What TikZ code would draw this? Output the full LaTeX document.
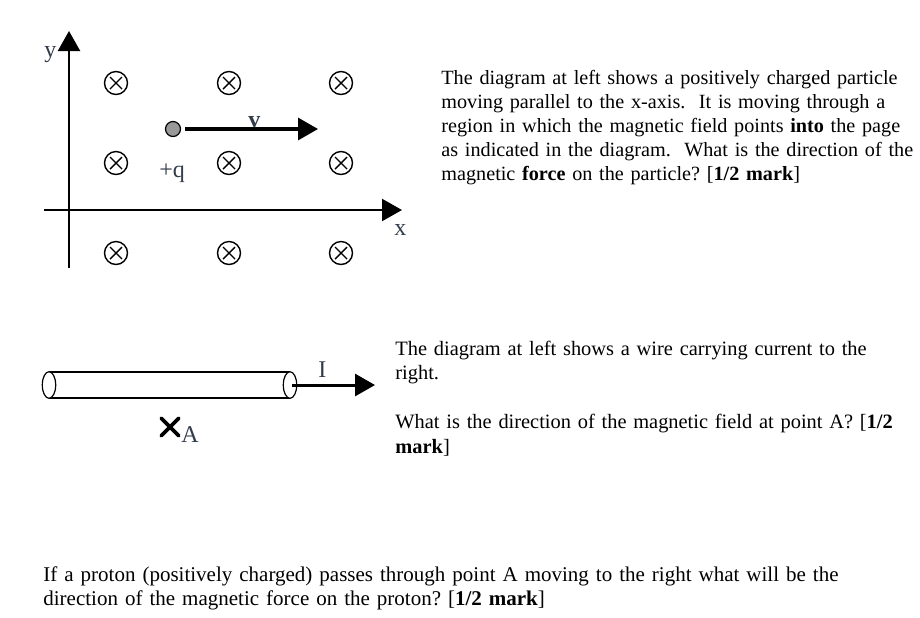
\documentclass[tikz,border=0pt]{standalone}
\usepackage{fontspec}
\setmainfont{Liberation Serif}
\usetikzlibrary{arrows.meta,shapes.misc}
\definecolor{labelgray}{RGB}{50,60,75}
\tikzset{
  fieldin/.style={circle,draw,line width=0.7pt,minimum size=11.5pt,inner sep=0pt,
    path picture={\draw[line width=0.7pt]
      ([shift={(-6,-6)}]path picture bounding box.center)--([shift={(6,6)}]path picture bounding box.center)
      ([shift={(-6,6)}]path picture bounding box.center)--([shift={(6,-6)}]path picture bounding box.center);}},
  bigtip/.style={-{Triangle[length=10pt,width=11pt]}},
  lbl/.style={inner sep=0pt,anchor=base west,text=labelgray,font=\fontsize{12}{14}\selectfont},
  question/.style={inner sep=0pt,anchor=base west,text width=250pt,align=left}
}
\frenchspacing
\begin{document}
\begin{tikzpicture}[x=0.5pt,y=-0.5pt]
  \useasboundingbox (0,0) rectangle (920,617);
  % axes
  \coordinate (yb) at (69,268);
  \coordinate (yt) at (69,31);
  \coordinate (xl) at (44,210);
  \coordinate (xr) at (402,210);
  \draw[line width=1.15pt,bigtip] (yb)--(yt);
  \draw[line width=1.15pt,bigtip] (xl)--(xr);
  \node[lbl] (ylab) at (44,57) {y};
  \node[lbl] (xlab) at (394,235) {x};
  % field into the page
  \foreach \i/\x in {1/116,2/229,3/341}
    \foreach \j/\y in {1/83,2/163,3/253}
      \node[fieldin] (b\i\j) at (\x,\y) {};
  % the charge
  \node[circle,draw,fill=black!40,line width=0.6pt,minimum size=7.5pt,inner sep=0pt] (q) at (173,129) {};
  \coordinate (vtip) at (318,129);
  \draw[line width=1.6pt,bigtip,shorten <=2pt] (q.east)--(vtip);
  \node[lbl,font=\fontsize{12}{14}\selectfont\bfseries] (vlab) at (248,127) {v};
  \node[lbl] (qlab) at (159,177) {+q};
  \node[question,font=\fontsize{10.1}{12.1}\selectfont] (text1) at (441,84) {The diagram at left shows a positively charged particle\\
    moving parallel to the x-axis.\ \ It is moving through a\\
    region in which the magnetic field points \textbf{into} the page\\
    as indicated in the diagram.\ \ What is the direction of the\\
    magnetic \textbf{force} on the particle? [\textbf{1/2 mark}]};
  % the wire
  \draw[line width=0.6pt,fill=white] (49,372)--(290,372) (49,398)--(290,398);
  \draw[line width=0.6pt,fill=white] (49,385) ellipse [x radius=6.7,y radius=13.3];
  \draw[line width=0.6pt,fill=white] (290,385) ellipse [x radius=6.7,y radius=13.3];
  \coordinate (wend) at (292,385);
  \coordinate (itip) at (375,385);
  \draw[line width=1.5pt,bigtip] (wend)--(itip);
  \node[lbl] (ilab) at (318,377) {I};
  \node[cross out,draw,line width=1.8pt,line cap=round,minimum size=7pt,inner sep=0pt] (A) at (170,427) {};
  \node[lbl] (alab) at (181,442) {A};
  \node[question,text width=270pt,font=\fontsize{10.2}{12.2}\selectfont] (text2) at (395,355) {The diagram at left shows a wire carrying current to the\\
    right.\\[12.4pt]
    What is the direction of the magnetic field at point A? [\textbf{1/2}\\
    \textbf{mark}]};
  \node[question,text width=420pt,font=\fontsize{10.5}{12.1}\selectfont] (text3) at (43,581) {If a proton (positively charged) passes through point A moving to the right what will be the\\
    direction of the magnetic force on the proton? [\textbf{1/2 mark}]};
\end{tikzpicture}
\end{document}
